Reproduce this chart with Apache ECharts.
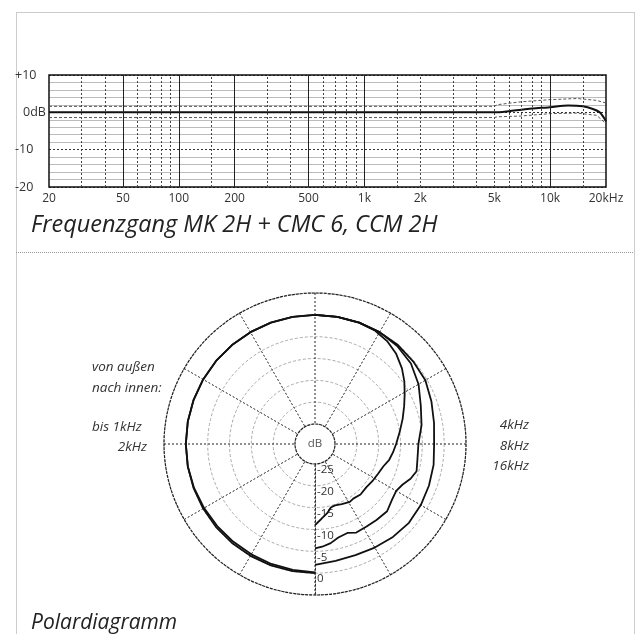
<!DOCTYPE html>
<html>
<head>
<meta charset="utf-8">
<script src="https://cdn.jsdelivr.net/npm/echarts@6/dist/echarts.min.js"></script>
<style>
  html, body { margin: 0; padding: 0; background: #fff; }
  #chart { width: 640px; height: 634px; }
</style>
</head>
<body>
<div id="chart"></div>
<script>
// Frequenzgang (Hz / dB)
const freqHz = [20, 50, 100, 200, 500, 1000, 2000, 5000, 6000, 7000, 8000, 9000, 10000, 12500, 15000, 17000, 18500, 20000];
const responseDb = [0, 0, 0, 0, 0, 0, 0, 0, 0.3, 0.7, 1.0, 1.2, 1.35, 1.8, 1.6, 0.9, 0, -2.4];
// Toleranzfeld
const tolFreqHz = [20, 5000, 5200, 6900, 10000, 14000, 17800, 20000];
const tolUpperDb = [1.6, 1.6, 2.05, 2.8, 3.4, 3.7, 3.2, 2.5];
const tolLowerDb = [-1.4, -1.4, -1.2, -1.0, -0.35, -0.2, -0.8, -3.0];
// Achsbeschriftung + Raster
const freqTickLabels = [20, 50, 100, 200, 500, 1000, 2000, 5000, 10000, 20000];
const majorGridHz = [50, 100, 200, 500, 1000, 10000];
const minorGridHz = [30, 40, 60, 70, 80, 90, 150, 300, 400, 600, 700, 800, 900, 1500, 2000, 3000, 4000, 5000, 6000, 7000, 8000, 9000, 15000];

// Polardiagramm: Winkel in Grad (0 = vorne/oben, im Uhrzeigersinn), Pegel in dB
const angles1k = [180, 190, 200, 210, 220, 230, 240, 250, 260, 270, 280, 290, 300, 310, 320, 330, 340, 350, 360];
const db1k = [0, 0, 0, 0, 0, 0, 0, 0, 0, 0, 0, 0, 0, 0, 0, 0, 0, 0, 0];
const angles2k = [180, 190, 200, 210, 220, 230, 240, 250, 260, 270, 280, 290, 300, 310, 320, 330, 340, 350, 360];
const db2k = [-0.2, -0.3, -0.35, -0.4, -0.4, -0.35, -0.25, -0.1, 0, 0, 0, 0, 0, 0, 0, 0, 0, 0, 0];
const angles4k = [0, 10, 20, 30, 40, 50, 60, 70, 80, 90, 100, 110, 120, 130, 140, 150, 160, 170, 180];
const db4k = [0, 0, 0, 0, 0, -0.2, -0.4, -1.2, -1.9, -2.3, -2.0, -1.8, -1.6, -1.5, -1.8, -2.2, -2.5, -2.4, -1.9];
const angles8k = [0, 10, 20, 30, 40, 50, 60, 70, 80, 90, 100, 105, 110, 115, 120, 126, 133, 141, 148, 155, 160, 166, 171, 176, 180];
const db8k = [0, 0, 0, 0, -0.3, -0.9, -2.2, -3.8, -4.8, -5.9, -5.8, -5.5, -6.3, -7.5, -8.1, -7.8, -7.0, -7.2, -7.3, -7.2, -7.9, -7.5, -6.6, -6.0, -5.7];
const angles16k = [0, 10, 20, 28, 35, 42, 49, 55, 61, 67, 74, 82, 90, 96, 102, 108, 115, 122, 130, 138, 145, 149, 156, 162, 166, 170, 175, 180];
const db16k = [0, 0, 0, -0.2, -0.8, -1.8, -3.2, -4.6, -6.1, -7.4, -8.7, -10, -11, -11.6, -12.2, -13.1, -13.6, -13.9, -14.2, -14.0, -14.3, -14.1, -14.5, -14.8, -14.6, -13.5, -12.4, -11];

const FONT = 'Open Sans';
const chart = echarts.init(document.getElementById('chart'));

function pairs (xs, ys) {
  return xs.map((x, i) => [x, ys[i]]);
}
// Polarkoordinaten: Radiusachse zeigt nach unten (startAngle 270), daher um 180 Grad drehen
function polarData (angles, dbs) {
  const rightHalf = angles[0] === 0
  return angles.map((a, i) => [dbs[i], rightHalf ? a + 180 : a - 180]);
}
function polarLine (name, angles, dbs) {
  return {
    name: name,
    type: 'line',
    coordinateSystem: 'polar',
    data: polarData(angles, dbs),
    showSymbol: false,
    silent: true,
    lineStyle: { color: '#111', width: 1.8 }
  };
}
function note (text, x, y, align) {
  return {
    type: 'text',
    silent: true,
    x: x,
    y: y,
    style: { text: text, fontFamily: FONT, fontStyle: 'italic', fontSize: 13.5, fill: '#333', align: align || 'left', verticalAlign: 'middle' }
  };
}

const gridLines = majorGridHz.map(f => ({ xAxis: f, lineStyle: { color: '#222', width: 1, type: 'solid' } }))
  .concat(minorGridHz.map(f => ({ xAxis: f, lineStyle: { color: '#444', width: 1, type: [2, 2] } })));

const titleStyle = { fontFamily: FONT, fontStyle: 'italic', fontWeight: 'normal', color: '#222' };

const option = {
  backgroundColor: '#fff',
  animation: false,
  title: [
    { text: 'Frequenzgang MK 2H + CMC 6, CCM 2H', left: 26, top: 209, textStyle: Object.assign({ fontSize: 23.5 }, titleStyle) },
    { text: 'Polardiagramm', left: 26, top: 608, textStyle: Object.assign({ fontSize: 21 }, titleStyle) }
  ],
  grid: {
    left: 49,
    top: 75,
    width: 557,
    height: 112,
    show: true,
    borderColor: '#111',
    borderWidth: 1.5,
    z: 3
  },
  xAxis: {
    type: 'log',
    logBase: 10,
    min: 20,
    max: 20000,
    axisLine: { show: false },
    axisTick: { show: false },
    splitLine: { show: false },
    axisLabel: {
      customValues: freqTickLabels,
      margin: 6,
      fontFamily: FONT,
      fontSize: 12,
      color: '#333',
      formatter: v => v === 20000 ? '20kHz' : (v >= 1000 ? (v / 1000) + 'k' : String(v))
    }
  },
  yAxis: {
    type: 'value',
    min: -20,
    max: 10,
    interval: 10,
    axisLine: { show: false },
    axisTick: { show: false },
    splitLine: { show: true, lineStyle: { color: '#333', type: [2, 2] } },
    minorTick: { show: false, splitNumber: 5 },
    minorSplitLine: { show: true, lineStyle: { color: '#bbb', width: 1 } },
    axisLabel: {
      align: 'left',
      margin: 34,
      fontFamily: FONT,
      fontSize: 12.5,
      color: '#333',
      formatter: v => v === 10 ? '+10' : (v === 0 ? '{z|0dB}' : String(v)),
      rich: { z: { fontFamily: FONT, fontSize: 12.5, color: '#333', padding: [0, 0, 0, 8] } }
    }
  },
  polar: {
    center: [315, 444],
    radius: [20, 151]
  },
  angleAxis: {
    type: 'value',
    min: 0,
    max: 360,
    interval: 30,
    startAngle: 270,
    clockwise: true,
    axisLabel: { show: false },
    axisTick: { show: false },
    axisLine: { show: true, lineStyle: { color: '#222', width: 1.2, type: [3, 1] } },
    splitLine: { show: true, lineStyle: { color: '#222', width: 1, type: [2, 2] } }
  },
  radiusAxis: {
    type: 'value',
    min: -25,
    max: 5,
    interval: 5,
    axisLine: { show: true, lineStyle: { color: '#333', width: 1, type: [2, 2] } },
    axisTick: { show: false },
    splitLine: { show: true, lineStyle: { color: '#aaa', width: 1, type: [3, 2] } },
    axisLabel: {
      margin: 2,
      verticalAlign: 'top',
      fontFamily: FONT,
      fontSize: 11.5,
      color: '#333',
      formatter: v => v >= 5 ? '' : String(v)
    }
  },
  graphic: [
    { type: 'rect', silent: true, shape: { x: 16.5, y: 12.5, width: 618, height: 640 }, style: { fill: 'none', stroke: '#999', lineWidth: 1, lineDash: [1, 1] } },
    { type: 'line', silent: true, shape: { x1: 16, y1: 252.5, x2: 634, y2: 252.5 }, style: { stroke: '#999', lineWidth: 1, lineDash: [1, 1] } },
    { type: 'text', silent: true, x: 315, y: 444, style: { text: 'dB', fontFamily: FONT, fontSize: 11.5, fill: '#555', align: 'center', verticalAlign: 'middle' } },
    note('von außen', 92, 367),
    note('nach innen:', 92, 388),
    note('bis 1kHz', 92, 427),
    note('2kHz', 147, 447, 'right'),
    note('4kHz', 529, 425, 'right'),
    note('8kHz', 529, 446, 'right'),
    note('16kHz', 529, 466, 'right')
  ],
  series: [
    {
      name: 'Raster',
      type: 'line',
      data: [],
      silent: true,
      markLine: {
        silent: true,
        symbol: 'none',
        label: { show: false },
        data: gridLines
      }
    },
    {
      name: 'Toleranz oben',
      type: 'line',
      data: pairs(tolFreqHz, tolUpperDb),
      showSymbol: false,
      silent: true,
      lineStyle: { color: '#555', width: 1, type: [3, 2] }
    },
    {
      name: 'Toleranz unten',
      type: 'line',
      data: pairs(tolFreqHz, tolLowerDb),
      showSymbol: false,
      silent: true,
      lineStyle: { color: '#555', width: 1, type: [3, 2] }
    },
    {
      name: 'Frequenzgang',
      type: 'line',
      data: pairs(freqHz, responseDb),
      showSymbol: false,
      smooth: 0.3,
      silent: true,
      lineStyle: { color: '#111', width: 2 }
    },
    polarLine('bis 1kHz', angles1k, db1k),
    polarLine('2kHz', angles2k, db2k),
    polarLine('4kHz', angles4k, db4k),
    polarLine('8kHz', angles8k, db8k),
    polarLine('16kHz', angles16k, db16k)
  ]
};

chart.setOption(option);
</script>
</body>
</html>
